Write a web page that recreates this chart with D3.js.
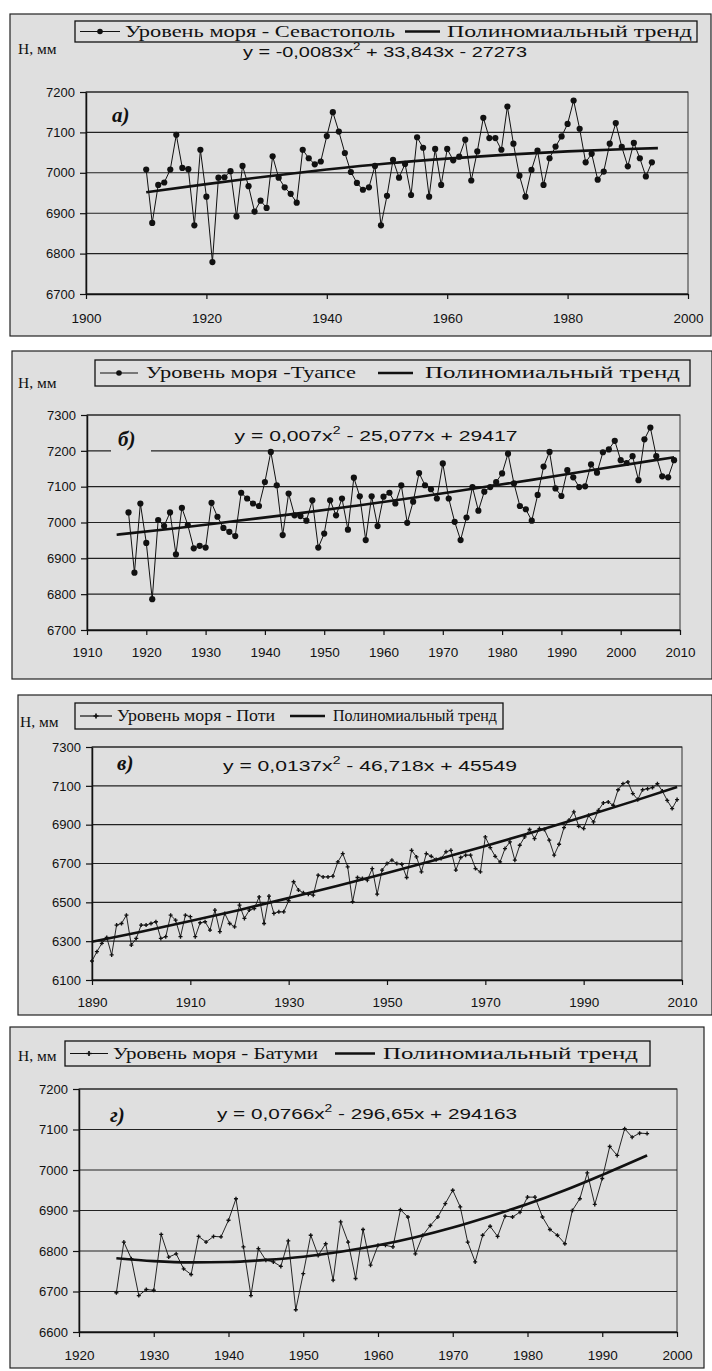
<!DOCTYPE html>
<html>
<head>
<meta charset="utf-8">
<script src="https://cdn.jsdelivr.net/npm/d3@7"></script>
<style>
  body { margin: 0; background: #fff; }
  svg { display: block; }
</style>
</head>
<body>
<svg id="chart" width="712" height="1371"></svg>
<script>
// ---------- data ----------
// Sevastopol, yearly 1910..1994
const sevaStart = 1910;
const seva = [7008,6876,6970,6976,7008,7094,7012,7009,6870,7057,
  6941,6779,6988,6989,7004,6892,7017,6967,6904,6931,
  6913,7041,6988,6964,6948,6926,7057,7036,7021,7028,
  7091,7150,7102,7049,7002,6975,6958,6964,7017,6870,
  6943,7032,6988,7022,6945,7088,7062,6941,7059,6970,
  7059,7031,7040,7082,6981,7053,7136,7086,7086,7057,
  7164,7072,6993,6941,7007,7055,6970,7036,7065,7090,
  7121,7179,7109,7026,7047,6983,7003,7072,7123,7064,
  7016,7074,7036,6991,7026];
const sevaTrendYears = [1910,1920,1930,1940,1950,1960,1970,1980,1990,1995];
const sevaTrend = [6952,6972,6991,7008,7023,7035,7045,7053,7059,7061];

// Tuapse, yearly 1917..2009
const tuapseStart = 1917;
const tuapse = [7028,6860,7053,6943,6786,7007,6990,7028,6911,7041,
  6993,6928,6935,6930,7055,7016,6985,6974,6962,7083,
  7067,7053,7046,7113,7197,7104,6965,7081,7020,7018,
  7005,7062,6930,6969,7062,7020,7067,6980,7125,7073,
  6951,7073,6990,7072,7083,7053,7104,6999,7058,7138,
  7104,7093,7067,7165,7067,7002,6951,7014,7099,7033,
  7086,7099,7113,7137,7192,7109,7046,7037,7005,7077,
  7156,7197,7095,7074,7146,7126,7099,7101,7162,7139,
  7196,7204,7228,7174,7166,7185,7118,7232,7265,7185,
  7129,7126,7174];
const tuapseTrendYears = [1915,1925,1935,1945,1955,1965,1975,1985,1995,2005,2009];
const tuapseTrend = [6966,6984,7004,7024,7046,7069,7094,7119,7146,7172,7182];

// Poti, yearly 1890..2009
const potiStart = 1890;
const poti = [6198,6246,6289,6319,6229,6383,6391,6434,6280,6314,
  6383,6383,6391,6400,6314,6323,6434,6408,6323,6434,
  6426,6323,6395,6400,6357,6460,6349,6443,6391,6374,
  6486,6417,6460,6468,6528,6391,6532,6443,6451,6451,
  6508,6606,6563,6549,6542,6537,6640,6631,6631,6635,
  6708,6751,6683,6503,6628,6623,6614,6674,6542,6666,
  6700,6717,6700,6696,6628,6768,6734,6657,6751,6737,
  6720,6726,6760,6768,6666,6731,6743,6743,6674,6657,
  6837,6782,6737,6708,6777,6811,6717,6794,6837,6875,
  6828,6880,6875,6820,6743,6799,6885,6923,6966,6892,
  6880,6948,6914,6974,7012,7017,7000,7080,7111,7120,
  7060,7029,7080,7085,7091,7111,7073,7025,6983,7029];
const potiTrendYears = [1890,1900,1910,1920,1930,1940,1950,1960,1970,1980,1990,2000,2009];
const potiTrend = [6297,6349,6404,6461,6522,6585,6651,6719,6790,6864,6941,7020,7094];

// Batumi, yearly 1925..1996
const batumiStart = 1925;
const batumi = [6697,6822,6781,6690,6705,6703,6841,6785,6793,6756,
  6742,6836,6822,6836,6835,6876,6929,6810,6690,6806,
  6777,6773,6762,6825,6655,6744,6839,6789,6818,6728,
  6872,6822,6732,6853,6765,6814,6814,6810,6902,6884,
  6793,6839,6863,6884,6917,6950,6909,6822,6773,6839,
  6861,6836,6886,6884,6896,6933,6933,6884,6853,6839,
  6818,6900,6929,6993,6915,6979,7058,7036,7102,7081,
  7091,7090];
const batumiTrendYears = [1925,1930,1935,1940,1945,1950,1955,1960,1965,1970,1975,1980,1985,1990,1996];
const batumiTrend = [6782,6775,6772,6773,6778,6786,6798,6814,6834,6858,6886,6916,6950,6988,7036];

// ---------- layout ----------
const PANEL_BG = "#dfdfdf";
const INK = "#111";
const SERIF = "'Liberation Serif','DejaVu Serif',serif";
const SANS = "'Liberation Sans',Arial,sans-serif";

const panels = [
  { label: "а)", station: "Уровень моря - Севастополь", marker: "dot",
    eq: ["y = -0,0083x", "2", " + 33,843x - 27273"],
    start: sevaStart, values: seva, trendYears: sevaTrendYears, trend: sevaTrend,
    frame: [10, 14, 701, 322],
    plot: { x0: 86, x1: 688, y0: 92, y1: 294 },
    xDomain: [1900, 2000], xStep: 20, yDomain: [6700, 7200], yStep: 100,
    xLabelY: 323,
    legend: { box: [75, 21, 622, 21], l1: [80, 120], t1: [125, 270], l2: [405, 440], t2: [447, 245] },
    hmm: [18, 54], eqPos: [385, 57, 284], tag: [112, 122], tagGap: null },
  { label: "б)", station: "Уровень моря -Туапсе", marker: "dot",
    eq: ["y = 0,007x", "2", " - 25,077x + 29417"],
    start: tuapseStart, values: tuapse, trendYears: tuapseTrendYears, trend: tuapseTrend,
    frame: [12, 351, 700, 328],
    plot: { x0: 87, x1: 680, y0: 415, y1: 630 },
    xDomain: [1910, 2010], xStep: 10, yDomain: [6700, 7300], yStep: 100,
    xLabelY: 657,
    legend: { box: [95, 360, 595, 26], l1: [100, 138], t1: [146, 210], l2: [378, 413], t2: [425, 255] },
    hmm: [18, 388], eqPos: [376, 441, 283], tag: [118, 446], tagGap: [111, 151] },
  { label: "в)", station: "Уровень моря - Поти", marker: "cross",
    eq: ["y = 0,0137x", "2", " - 46,718x + 45549"],
    start: potiStart, values: poti, trendYears: potiTrendYears, trend: potiTrend,
    frame: [18, 695, 694, 320],
    plot: { x0: 92, x1: 682, y0: 747, y1: 980 },
    xDomain: [1890, 2010], xStep: 20, yDomain: [6100, 7300], yStep: 200,
    xLabelY: 1007,
    legend: { box: [75, 703, 428, 26], l1: [80, 112], t1: [117, 158], l2: [290, 325], t2: [333, 164] },
    hmm: [20, 727], eqPos: [370, 771, 294], tag: [117, 770], tagGap: null },
  { label: "г)", station: "Уровень моря - Батуми", marker: "cross",
    eq: ["y = 0,0766x", "2", " - 296,65x + 294163"],
    start: batumiStart, values: batumi, trendYears: batumiTrendYears, trend: batumiTrend,
    frame: [10, 1027, 694, 341],
    plot: { x0: 79, x1: 677, y0: 1089, y1: 1332 },
    xDomain: [1920, 2000], xStep: 10, yDomain: [6600, 7200], yStep: 100,
    xLabelY: 1360,
    legend: { box: [65, 1041, 585, 25], l1: [70, 108], t1: [113, 205], l2: [335, 375], t2: [383, 255] },
    hmm: [18, 1061], eqPos: [367, 1119, 300], tag: [110, 1122], tagGap: [106, 139] }
];

const svg = d3.select("#chart");

panels.forEach(p => drawPanel(p));

function drawPanel(p) {
  const g = svg.append("g");
  const [fx, fy, fw, fh] = p.frame;

  // panel frame
  g.append("rect")
    .attr("x", fx).attr("y", fy).attr("width", fw).attr("height", fh)
    .attr("fill", PANEL_BG).attr("stroke", "#222").attr("stroke-width", 1.2);

  const x = d3.scaleLinear().domain(p.xDomain).range([p.plot.x0, p.plot.x1]);
  const y = d3.scaleLinear().domain(p.yDomain).range([p.plot.y1, p.plot.y0]);

  const yTicks = d3.range(p.yDomain[0], p.yDomain[1] + 1, p.yStep);
  const xTicks = d3.range(p.xDomain[0], p.xDomain[1] + 1, p.xStep);

  // plot area border
  g.append("rect")
    .attr("x", p.plot.x0).attr("y", p.plot.y0)
    .attr("width", p.plot.x1 - p.plot.x0).attr("height", p.plot.y1 - p.plot.y0)
    .attr("fill", "none").attr("stroke", "#333").attr("stroke-width", 1);

  // gridlines
  g.append("g").selectAll("line").data(yTicks).join("line")
    .attr("x1", p.plot.x0).attr("x2", p.plot.x1)
    .attr("y1", d => y(d)).attr("y2", d => y(d))
    .attr("stroke", "#222").attr("stroke-width", 1.1);

  // axes
  const yAxis = g.append("g")
    .attr("transform", `translate(${p.plot.x0},0)`)
    .call(d3.axisLeft(y).tickValues(yTicks).tickSize(6).tickPadding(5).tickSizeOuter(0).tickFormat(d3.format("d")));
  yAxis.select(".domain").attr("stroke", INK).attr("stroke-width", 1.5);
  yAxis.selectAll(".tick line").attr("stroke", INK).attr("stroke-width", 1.2);
  yAxis.selectAll("text").attr("font-family", SANS).attr("font-size", 13).attr("fill", INK);

  const xAxis = g.append("g")
    .attr("transform", `translate(0,${p.plot.y1})`)
    .call(d3.axisBottom(x).tickValues(xTicks).tickSize(5).tickSizeOuter(0).tickFormat(d3.format("d")));
  xAxis.select(".domain").attr("stroke", INK).attr("stroke-width", 1.5);
  xAxis.selectAll(".tick line").attr("stroke", INK).attr("stroke-width", 1.2);
  xAxis.selectAll("text")
    .attr("font-family", SANS).attr("font-size", 13.5).attr("fill", INK)
    .attr("y", p.xLabelY - p.plot.y1).attr("dy", 0);

  // series
  const pts = p.values.map((v, i) => ({ year: p.start + i, h: v }));
  const line = d3.line().x(d => x(d.year)).y(d => y(d.h));
  g.append("path").datum(pts)
    .attr("d", line).attr("fill", "none")
    .attr("stroke", INK).attr("stroke-width", p.marker === "dot" ? 1 : 0.9);

  if (p.marker === "dot") {
    g.append("g").selectAll("circle").data(pts).join("circle")
      .attr("cx", d => x(d.year)).attr("cy", d => y(d.h)).attr("r", 3.1)
      .attr("fill", INK);
  } else {
    const cross = d3.symbol().type(d3.symbolCross).size(9);
    g.append("g").selectAll("path").data(pts).join("path")
      .attr("d", cross).attr("transform", d => `translate(${x(d.year)},${y(d.h)})`)
      .attr("fill", INK);
  }

  // polynomial trend
  const tr = p.trendYears.map((yr, i) => ({ year: yr, h: p.trend[i] }));
  g.append("path").datum(tr)
    .attr("d", d3.line().curve(d3.curveMonotoneX).x(d => x(d.year)).y(d => y(d.h)))
    .attr("fill", "none").attr("stroke", INK).attr("stroke-width", 2.6);

  // panel tag (а), б) ...) with a gap in the gridline
  if (p.tagGap) {
    g.append("rect")
      .attr("x", p.tagGap[0]).attr("y", p.tag[1] - 18)
      .attr("width", p.tagGap[1] - p.tagGap[0]).attr("height", 24)
      .attr("fill", PANEL_BG);
  }
  g.append("text")
    .attr("x", p.tag[0]).attr("y", p.tag[1])
    .attr("font-family", SERIF).attr("font-size", 21)
    .attr("font-weight", "bold").attr("font-style", "italic")
    .attr("fill", INK).text(p.label);

  // equation
  const eq = g.append("text")
    .attr("x", p.eqPos[0] - p.eqPos[2] / 2).attr("y", p.eqPos[1])
    .attr("font-family", SANS).attr("font-size", 15).attr("fill", INK)
    .attr("textLength", p.eqPos[2]).attr("lengthAdjust", "spacingAndGlyphs");
  eq.append("tspan").text(p.eq[0]);
  eq.append("tspan").attr("dy", -7).attr("font-size", 10).text(p.eq[1]);
  eq.append("tspan").attr("dy", 7).text(p.eq[2]);

  // axis title
  g.append("text")
    .attr("x", p.hmm[0]).attr("y", p.hmm[1])
    .attr("font-family", SERIF).attr("font-size", 15.5).attr("fill", INK)
    .text("H, мм");

  // legend
  const L = p.legend;
  const [bx, by, bw, bh] = L.box;
  const lg = g.append("g");
  lg.append("rect").attr("x", bx).attr("y", by).attr("width", bw).attr("height", bh)
    .attr("fill", PANEL_BG).attr("stroke", INK).attr("stroke-width", 1.3);
  const cy = by + bh / 2;
  lg.append("line").attr("x1", L.l1[0]).attr("x2", L.l1[1]).attr("y1", cy).attr("y2", cy)
    .attr("stroke", INK).attr("stroke-width", 1.2);
  if (p.marker === "dot") {
    lg.append("circle").attr("cx", (L.l1[0] + L.l1[1]) / 2).attr("cy", cy).attr("r", 2.8).attr("fill", INK);
  } else {
    lg.append("path").attr("d", d3.symbol().type(d3.symbolCross).size(14))
      .attr("transform", `translate(${(L.l1[0] + L.l1[1]) / 2},${cy})`).attr("fill", INK);
  }
  lg.append("text").attr("x", L.t1[0]).attr("y", cy + 5)
    .attr("font-family", SERIF).attr("font-size", 16).attr("fill", INK)
    .attr("textLength", L.t1[1]).attr("lengthAdjust", "spacingAndGlyphs")
    .text(p.station);
  lg.append("line").attr("x1", L.l2[0]).attr("x2", L.l2[1]).attr("y1", cy).attr("y2", cy)
    .attr("stroke", INK).attr("stroke-width", 2.6);
  lg.append("text").attr("x", L.t2[0]).attr("y", cy + 5)
    .attr("font-family", SERIF).attr("font-size", 16).attr("fill", INK)
    .attr("textLength", L.t2[1]).attr("lengthAdjust", "spacingAndGlyphs")
    .text("Полиномиальный тренд");
}
</script>
</body>
</html>
